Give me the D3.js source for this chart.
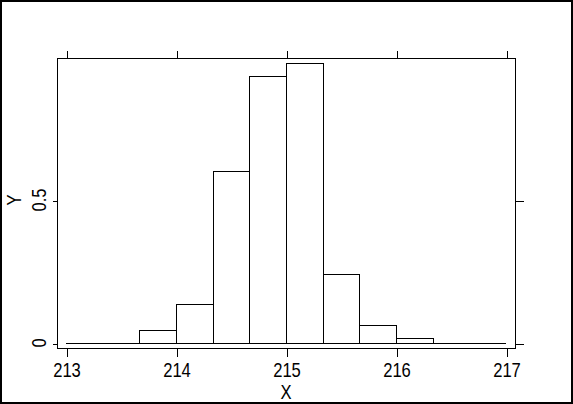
<!DOCTYPE html>
<html>
<head>
<meta charset="utf-8">
<script src="https://cdn.jsdelivr.net/npm/d3@7"></script>
<style>
  body { margin: 0; background: #fff; }
  svg { display: block; }
  text { font-family: "Liberation Sans", sans-serif; font-size: 20px; fill: #000; }
  .tick line, line, rect { shape-rendering: crispEdges; }
</style>
</head>
<body>
<svg id="chart" width="573" height="404"></svg>
<script>
// histogram bins (left edge, density) — width 1/3
const binStarts = [213 + 2/3, 214, 214 + 1/3, 214 + 2/3, 215, 215 + 1/3, 215 + 2/3, 216];
const binHeights = [0.045, 0.136, 0.600, 0.934, 0.978, 0.240, 0.062, 0.016];
const binWidth = 1/3;
const xTicks = [213, 214, 215, 216, 217];
const yTicks = [0, 0.5];

const svg = d3.select("#chart");
const W = 573, H = 404;
const narrow = "scale(0.83,1)"; // reference font is a condensed face

const x = d3.scaleLinear().domain([213, 217]).range([66, 506]);
const y = d3.scaleLinear().domain([0, 0.5]).range([343, 200]);

const frame = { left: 57, right: 515, top: 58, bottom: 348 };

// outer border
svg.append("rect")
    .attr("x", 1).attr("y", 1)
    .attr("width", W - 2).attr("height", H - 2)
    .attr("fill", "none").attr("stroke", "#000").attr("stroke-width", 2);

// plot frame
svg.append("rect")
    .attr("x", frame.left + 0.5).attr("y", frame.top + 0.5)
    .attr("width", frame.right - frame.left).attr("height", frame.bottom - frame.top)
    .attr("fill", "none").attr("stroke", "#000").attr("stroke-width", 1);

// baseline
svg.append("line")
    .attr("x1", x(213)).attr("x2", x(217))
    .attr("y1", y(0) + 0.5).attr("y2", y(0) + 0.5)
    .attr("stroke", "#000");

// bars
svg.selectAll("rect.bar")
    .data(binStarts.map((s, i) => ({ x0: s, x1: s + binWidth, v: binHeights[i] })))
    .join("rect")
    .attr("class", "bar")
    .attr("x", d => Math.round(x(d.x0)) + 0.5)
    .attr("width", d => Math.round(x(d.x1)) - Math.round(x(d.x0)))
    .attr("y", d => Math.round(y(d.v)) + 0.5)
    .attr("height", d => Math.round(y(0)) - Math.round(y(d.v)))
    .attr("fill", "none")
    .attr("stroke", "#000");

// axes
const axBottom = svg.append("g")
    .attr("transform", `translate(0.5,${frame.bottom + 0.5})`)
    .call(d3.axisBottom(x).tickValues(xTicks).tickSize(8).tickPadding(6).tickFormat(d3.format("d")));
axBottom.select(".domain").remove();
axBottom.attr("font-size", null).attr("font-family", null);
axBottom.selectAll("text").attr("transform", narrow);

const axTop = svg.append("g")
    .attr("transform", `translate(0.5,${frame.top + 0.5})`)
    .call(d3.axisTop(x).tickValues(xTicks).tickSize(8).tickFormat(""));
axTop.select(".domain").remove();

const axLeft = svg.append("g")
    .attr("transform", `translate(${frame.left + 0.5},0.5)`)
    .call(d3.axisLeft(y).tickValues(yTicks).tickSize(5).tickFormat(""));
axLeft.select(".domain").remove();

const axRight = svg.append("g")
    .attr("transform", `translate(${frame.right + 0.5},0.5)`)
    .call(d3.axisRight(y).tickValues(yTicks).tickSize(8).tickFormat(""));
axRight.select(".domain").remove();

svg.selectAll(".tick line").attr("stroke", "#000");

// y tick labels (rotated)
svg.selectAll("text.ylab")
    .data(yTicks)
    .join("text")
    .attr("class", "ylab")
    .attr("transform", d => `translate(46,${y(d)}) rotate(-90) ${narrow}`)
    .attr("text-anchor", "middle")
    .text(d => d === 0 ? "0" : d);

// axis titles
svg.append("text")
    .attr("transform", `translate(${x(215)},399) ${narrow}`)
    .attr("text-anchor", "middle")
    .text("X");

svg.append("text")
    .attr("transform", `translate(21,${y(0.5)}) rotate(-90) ${narrow}`)
    .attr("text-anchor", "middle")
    .text("Y");
</script>
</body>
</html>
